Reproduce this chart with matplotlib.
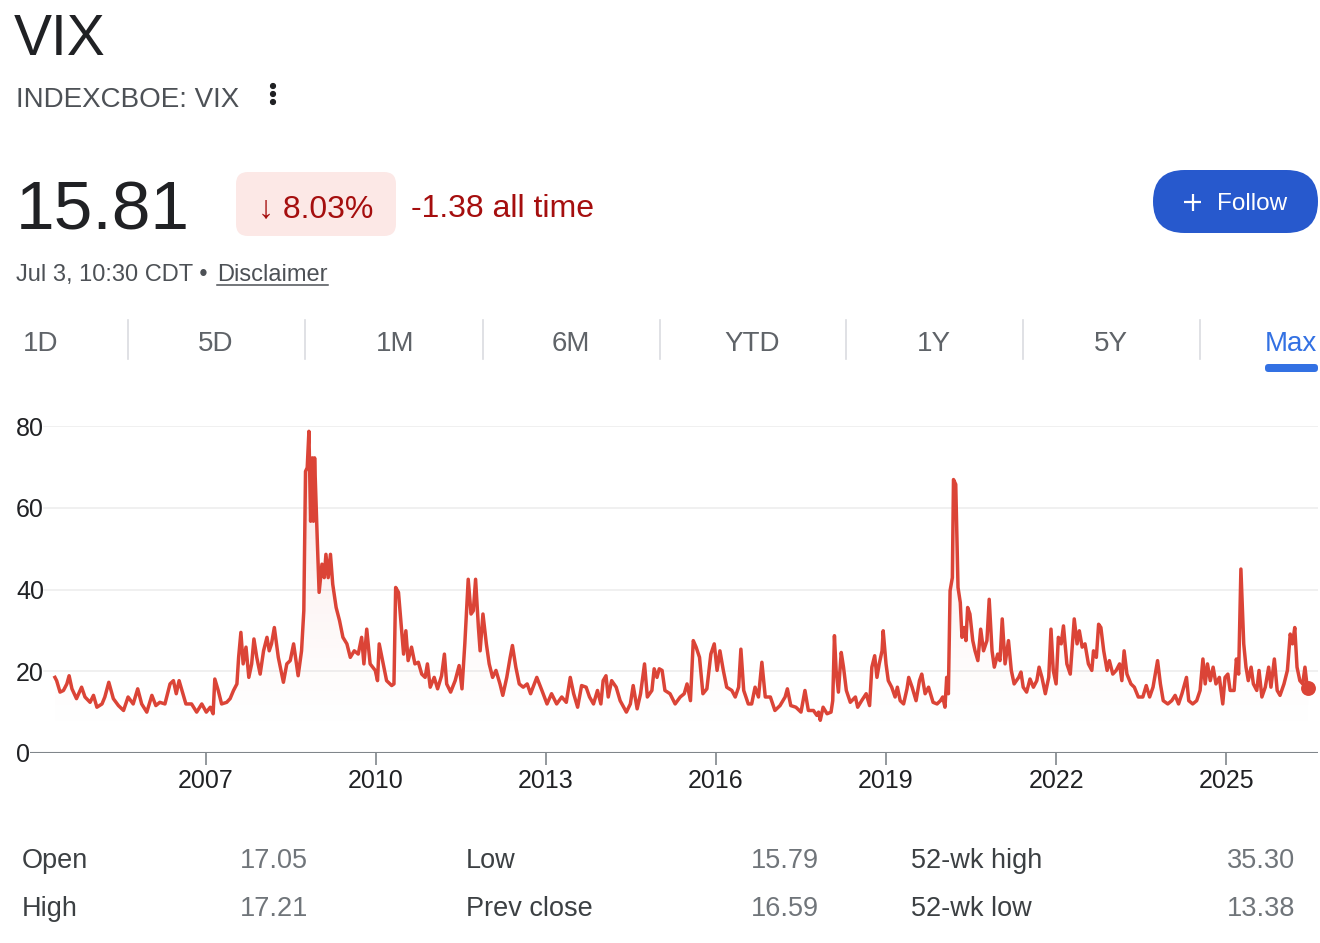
import numpy as np
import matplotlib.pyplot as plt
from matplotlib.colors import to_rgb
from matplotlib.patches import FancyBboxPatch, Circle

plt.rcParams['font.family'] = ['Liberation Sans', 'DejaVu Sans']

years = [
    2004.34, 2004.37, 2004.43, 2004.49, 2004.55, 2004.59, 2004.64, 2004.72, 2004.81, 2004.87,
    2004.96, 2005.02, 2005.08, 2005.17, 2005.22, 2005.29, 2005.37, 2005.46, 2005.55, 2005.63,
    2005.72, 2005.80, 2005.87, 2005.96, 2006.05, 2006.12, 2006.19, 2006.28, 2006.37, 2006.43,
    2006.48, 2006.53, 2006.58, 2006.65, 2006.75, 2006.84, 2006.93, 2007.01, 2007.08, 2007.13,
    2007.16, 2007.22, 2007.28, 2007.37, 2007.43, 2007.49, 2007.55, 2007.58, 2007.62, 2007.66,
    2007.71, 2007.76, 2007.81, 2007.85, 2007.90, 2007.96, 2008.02, 2008.08, 2008.12, 2008.16,
    2008.21, 2008.28, 2008.37, 2008.43, 2008.49, 2008.55, 2008.63,
    2008.69, 2008.73, 2008.76, 2008.79, 2008.82, 2008.85, 2008.88, 2008.90, 2008.92, 2008.95,
    2008.97, 2009.00, 2009.05, 2009.09, 2009.12, 2009.16, 2009.20, 2009.24, 2009.30, 2009.36,
    2009.42, 2009.49, 2009.55, 2009.62, 2009.69, 2009.75, 2009.79, 2009.84, 2009.90, 2009.99,
    2010.03, 2010.06, 2010.12, 2010.19, 2010.28, 2010.32, 2010.35, 2010.40, 2010.46, 2010.49,
    2010.53, 2010.57, 2010.63, 2010.69, 2010.75, 2010.81, 2010.87, 2010.91, 2010.96, 2011.03,
    2011.09, 2011.16, 2011.21, 2011.25, 2011.32, 2011.40, 2011.47, 2011.52, 2011.57, 2011.63,
    2011.68, 2011.72, 2011.76, 2011.81, 2011.84, 2011.89, 2011.95, 2012.00, 2012.06, 2012.12,
    2012.19, 2012.24, 2012.31, 2012.37, 2012.41, 2012.47, 2012.53, 2012.60, 2012.67, 2012.73,
    2012.84, 2012.93, 2013.02, 2013.10, 2013.19,
    2013.28, 2013.36, 2013.43, 2013.49, 2013.56, 2013.63, 2013.71, 2013.77, 2013.84, 2013.91,
    2013.97, 2014.01, 2014.06, 2014.10, 2014.16, 2014.24, 2014.31, 2014.42, 2014.49, 2014.54,
    2014.61, 2014.67, 2014.74, 2014.79, 2014.87, 2014.91, 2014.96, 2015.00, 2015.05, 2015.10,
    2015.19, 2015.28, 2015.37, 2015.44, 2015.49, 2015.55, 2015.60, 2015.65, 2015.71, 2015.77,
    2015.84, 2015.91, 2015.97, 2016.02, 2016.07, 2016.13, 2016.19, 2016.28, 2016.34, 2016.40,
    2016.44, 2016.49, 2016.57, 2016.63, 2016.69, 2016.75, 2016.81, 2016.87, 2016.96, 2017.04,
    2017.13, 2017.22, 2017.26, 2017.32, 2017.41, 2017.50, 2017.57, 2017.63, 2017.72, 2017.78,
    2017.81, 2017.84, 2017.89, 2017.96, 2018.03, 2018.06, 2018.09, 2018.12, 2018.16, 2018.21,
    2018.25, 2018.30, 2018.37, 2018.46, 2018.50, 2018.57, 2018.65, 2018.71, 2018.75, 2018.80,
    2018.84, 2018.88, 2018.93, 2018.95, 2019.00, 2019.04, 2019.10, 2019.16, 2019.20, 2019.25,
    2019.31, 2019.37, 2019.40, 2019.46, 2019.53, 2019.59, 2019.63, 2019.69, 2019.75, 2019.83,
    2019.90, 2019.96, 2020.00, 2020.04, 2020.07, 2020.10, 2020.13, 2020.17, 2020.19, 2020.23,
    2020.27, 2020.31, 2020.34, 2020.38, 2020.41, 2020.44, 2020.48, 2020.53, 2020.57, 2020.62,
    2020.67, 2020.72, 2020.78, 2020.82, 2020.87, 2020.91, 2020.97, 2021.01, 2021.05, 2021.10,
    2021.16, 2021.21, 2021.26, 2021.34, 2021.38, 2021.42, 2021.48, 2021.54, 2021.60, 2021.66,
    2021.70, 2021.75, 2021.81, 2021.87, 2021.91, 2021.95, 2022.00, 2022.04, 2022.09,
    2022.13, 2022.19, 2022.25, 2022.32, 2022.37, 2022.41, 2022.46, 2022.51, 2022.57, 2022.63,
    2022.66, 2022.71, 2022.75, 2022.79, 2022.84, 2022.90, 2022.94, 2023.00, 2023.06, 2023.12,
    2023.16, 2023.20, 2023.25, 2023.32, 2023.38, 2023.45, 2023.53, 2023.59, 2023.65, 2023.71,
    2023.75, 2023.79, 2023.84, 2023.89, 2023.97, 2024.04, 2024.10, 2024.16, 2024.22, 2024.30,
    2024.34, 2024.41, 2024.48, 2024.54, 2024.59, 2024.63, 2024.67, 2024.72, 2024.77, 2024.82,
    2024.88, 2024.94, 2024.98, 2025.03, 2025.07, 2025.14, 2025.18, 2025.22, 2025.26, 2025.31,
    2025.35, 2025.39, 2025.44, 2025.48, 2025.54, 2025.58, 2025.63, 2025.69, 2025.75, 2025.79,
    2025.85, 2025.90, 2025.95, 2026.02, 2026.08, 2026.13, 2026.17, 2026.21, 2026.25, 2026.30,
    2026.35, 2026.39, 2026.43, 2026.45,
]
vix = [
    18.5, 17.7, 14.9, 15.3, 16.9, 18.9, 15.7, 13.3, 16.1, 13.7,
    12.4, 14.1, 11.2, 12.0, 13.7, 17.3, 13.3, 11.6, 10.4, 13.7,
    12.0, 15.7, 12.0, 10.0, 14.1, 11.6, 12.4, 12.0, 16.9, 17.7,
    14.5, 17.7, 15.3, 12.0, 12.0, 10.0, 12.0, 10.0, 11.2, 9.6,
    18.1, 15.3, 12.0, 12.4, 13.3, 15.3, 16.9, 23.4, 29.5, 21.8,
    25.9, 18.5, 21.8, 27.9, 23.4, 19.3, 25.0, 28.3, 25.0, 26.7,
    30.7, 23.4, 17.3, 21.8, 22.6, 26.7, 18.9,
    25.0, 34.8, 68.9, 69.8, 78.7, 56.7, 72.2, 56.7, 72.2, 59.2,
    51.1, 39.3, 46.2, 42.9, 48.6, 42.9, 48.6, 41.3, 35.6, 32.4,
    28.3, 26.7, 23.4, 25.0, 24.2, 28.3, 21.8, 30.3, 21.8, 20.2,
    17.7, 26.7, 22.6, 17.7, 16.5, 16.9, 40.5, 39.3, 29.1, 24.2,
    29.9, 22.6, 25.9, 21.8, 22.2, 19.3, 18.5, 21.8, 16.1, 18.5,
    15.7, 18.9, 24.2, 16.9, 14.9, 17.7, 21.4, 15.7, 26.7, 42.5,
    34.0, 34.8, 42.5, 30.7, 25.0, 34.0, 26.7, 21.8, 18.5, 20.2,
    16.9, 14.1, 18.5, 23.4, 26.3, 21.0, 16.9, 16.1, 16.9, 14.5,
    18.5, 15.3, 12.0, 14.5, 12.0,
    13.7, 12.4, 18.5, 14.5, 11.2, 16.5, 16.1, 13.7, 12.0, 15.3,
    12.0, 17.7, 18.9, 13.7, 17.7, 16.1, 12.8, 10.0, 12.0, 16.5,
    10.8, 14.5, 21.8, 13.7, 15.3, 20.6, 18.5, 20.6, 20.2, 15.3,
    14.5, 12.0, 13.7, 14.5, 16.9, 12.8, 27.5, 25.9, 23.4, 14.5,
    15.7, 24.2, 26.7, 20.2, 25.0, 20.2, 16.1, 15.3, 13.7, 16.1,
    25.4, 15.3, 12.0, 12.0, 16.1, 13.7, 22.2, 13.7, 13.7, 10.4,
    11.6, 13.7, 15.7, 11.6, 11.2, 10.0, 15.3, 10.4, 10.4, 9.2,
    10.0, 8.0, 11.2, 9.6, 10.0, 12.8, 28.7, 20.2, 14.9, 24.6,
    21.0, 15.3, 12.4, 13.7, 11.2, 12.8, 14.5, 11.6, 21.0, 23.8,
    18.5, 21.8, 25.0, 29.9, 21.8, 17.7, 16.1, 13.7, 16.1, 12.8,
    12.0, 15.7, 18.5, 16.1, 12.8, 17.7, 19.3, 14.5, 16.1, 12.4,
    12.0, 12.8, 13.7, 11.2, 18.5, 14.5, 39.7, 42.9, 66.9, 65.7,
    40.5, 36.8, 28.3, 30.7, 27.5, 35.6, 34.0, 27.5, 25.0, 22.6,
    30.3, 25.0, 27.5, 37.6, 25.0, 21.0, 24.2, 22.6, 32.8, 21.8,
    27.5, 20.2, 16.9, 18.5, 19.8, 16.1, 14.9, 18.1, 16.1, 17.7,
    21.0, 18.5, 14.5, 18.5, 30.3, 20.2, 16.9, 28.3, 26.7,
    31.1, 21.8, 19.3, 32.8, 26.7, 29.9, 25.9, 26.7, 21.8, 20.2,
    25.0, 23.4, 31.5, 30.7, 25.0, 20.2, 22.6, 19.3, 20.2, 21.8,
    17.7, 25.0, 19.3, 16.9, 16.1, 13.7, 13.7, 16.5, 13.7, 16.1,
    19.3, 22.6, 16.9, 12.8, 12.0, 12.8, 14.1, 12.0, 14.5, 18.5,
    12.8, 12.0, 12.8, 15.3, 23.0, 16.9, 21.8, 17.7, 21.0, 16.9,
    18.5, 12.0, 18.5, 19.3, 15.3, 15.3, 23.0, 19.3, 45.0, 26.7,
    21.0, 17.7, 21.0, 16.9, 15.3, 20.2, 13.7, 16.1, 21.0, 16.1,
    23.0, 15.3, 14.1, 16.9, 20.2, 29.1, 26.7, 30.7, 21.0, 17.7,
    16.9, 21.0, 16.1, 15.81,
]

year_ticks = [2007, 2010, 2013, 2016, 2019, 2022, 2025]
level_ticks = [0, 20, 40, 60, 80]

tabs = ['1D', '5D', '1M', '6M', 'YTD', '1Y', '5Y', 'Max']
tab_x = [40, 216, 395, 571, 752, 934, 1111, 1291]
tab_sep_x = [128, 305, 483, 660, 846, 1023, 1200]

col1_names = ['Open', 'High']
col1_vals = ['17.05', '17.21']
col2_names = ['Low', 'Prev close']
col2_vals = ['15.79', '16.59']
col3_names = ['52-wk high', '52-wk low']
col3_vals = ['35.30', '13.38']

RED = '#db4437'
DARK_RED = '#a50e0e'
INK = '#202124'
GREY = '#5f6368'
BLUE = '#2759cd'
TAB_BLUE = '#3371e3'

W, H = 1320, 943
fig = plt.figure(figsize=(W / 100, H / 100), dpi=100)
fig.patch.set_facecolor('white')

# pixel-space layer for the page furniture around the chart
bg = fig.add_axes([0, 0, 1, 1])
bg.set_xlim(0, W)
bg.set_ylim(H, 0)
bg.axis('off')

bg.text(14, 55, 'VIX', fontsize=41, color=INK, va='baseline')
bg.text(16, 107, 'INDEXCBOE: VIX', fontsize=20, color='#4d5156', va='baseline')
for cy in (86, 94, 102):
    bg.add_patch(Circle((273, cy), 2.4, color=INK))

bg.text(16, 229, '15.81', fontsize=50, color=INK, va='baseline')
bg.add_patch(FancyBboxPatch((236, 172), 160, 64, boxstyle='round,pad=0,rounding_size=12',
                            facecolor='#fce8e6', edgecolor='none'))
bg.text(316, 217, '\u2193 8.03%', fontsize=23, color=DARK_RED, va='baseline', ha='center')
bg.text(411, 217, '-1.38 all time', fontsize=23, color=DARK_RED, va='baseline')

bg.add_patch(FancyBboxPatch((1153, 170), 165, 63, boxstyle='round,pad=0,rounding_size=31.5',
                            facecolor=BLUE, edgecolor='none'))
bg.plot([1184, 1201], [202, 202], color='white', lw=1.6, solid_capstyle='butt')
bg.plot([1192.5, 1192.5], [193.5, 210.5], color='white', lw=1.6, solid_capstyle='butt')
bg.text(1217, 210, 'Follow', fontsize=17.5, color='white', va='baseline')

bg.text(16, 281, 'Jul 3, 10:30 CDT \u2022 ', fontsize=17, color='#4d5156', va='baseline')
bg.text(217, 281, 'Disclaimer', fontsize=17, color='#4d5156', va='baseline')
bg.plot([217, 328], [285, 285], color='#4d5156', lw=1.1)

for name, x in zip(tabs, tab_x):
    active = name == 'Max'
    ha = 'left' if name == '1D' else 'center'
    xx = 23 if name == '1D' else x
    bg.text(xx, 351, name, fontsize=20, va='baseline', ha=ha,
            color=TAB_BLUE if active else GREY)
for x in tab_sep_x:
    bg.plot([x, x], [320, 359], color='#dadce0', lw=1.2)
bg.add_patch(FancyBboxPatch((1265, 364), 53, 8, boxstyle='round,pad=0,rounding_size=3.5',
                            facecolor=TAB_BLUE, edgecolor='none'))

# key stats table
row_y = [868, 916]
for i, y in enumerate(row_y):
    bg.text(22, y, col1_names[i], fontsize=19.5, color='#3c4043', va='baseline')
    bg.text(240, y, col1_vals[i], fontsize=19.5, color='#70757a', va='baseline')
    bg.text(466, y, col2_names[i], fontsize=19.5, color='#3c4043', va='baseline')
    bg.text(819, y, col2_vals[i], fontsize=19.5, color='#70757a', va='baseline', ha='right')
    bg.text(911, y, col3_names[i], fontsize=19.5, color='#3c4043', va='baseline')
    bg.text(1295, y, col3_vals[i], fontsize=19.5, color='#70757a', va='baseline', ha='right')

# the chart itself
ax = fig.add_axes([30 / W, 190 / H, 1288 / W, 327 / H])
ax.set_zorder(2)
ax.patch.set_alpha(0)
x0, x1 = 2003.90, 2026.62

fill = ax.fill_between(years, vix, 0, facecolor='none', edgecolor='none')
grad = np.linspace(0, 1, 256)
rgba = np.zeros((256, 1, 4))
rgba[..., :3] = to_rgb(RED)
rgba[:, 0, 3] = 0.17 * grad ** 1.6
im = ax.imshow(rgba, extent=[x0, x1, 0, 80], origin='lower', aspect='auto', zorder=1)
im.set_clip_path(fill.get_paths()[0], transform=ax.transData)

ax.plot(years, vix, color=RED, lw=2.5, solid_joinstyle='round', zorder=3, clip_on=False)
ax.scatter([years[-1]], [vix[-1]], s=115, color=RED, zorder=4, clip_on=False, linewidths=0)

for v in level_ticks[1:]:
    ax.axhline(v, xmin=0.011, color='#eeeeee', lw=1.2, zorder=0)
ax.axhline(0, color='#80868b', lw=1.5, zorder=2)

ax.set_xlim(x0, x1)
ax.set_ylim(0, 80)
for s in ax.spines.values():
    s.set_visible(False)

ax.set_xticks(year_ticks)
ax.set_xticklabels([str(y) for y in year_ticks])
ax.tick_params(axis='x', length=8.5, width=1.2, color='#80868b', pad=3,
               labelsize=18, labelcolor=INK)
ax.set_yticks(level_ticks)
ax.set_yticklabels([str(v) for v in level_ticks])
ax.tick_params(axis='y', length=0, pad=10, labelsize=18, labelcolor=INK)
for lab in ax.get_yticklabels():
    lab.set_ha('left')

fig.savefig('out.png', dpi=100, facecolor='white')
